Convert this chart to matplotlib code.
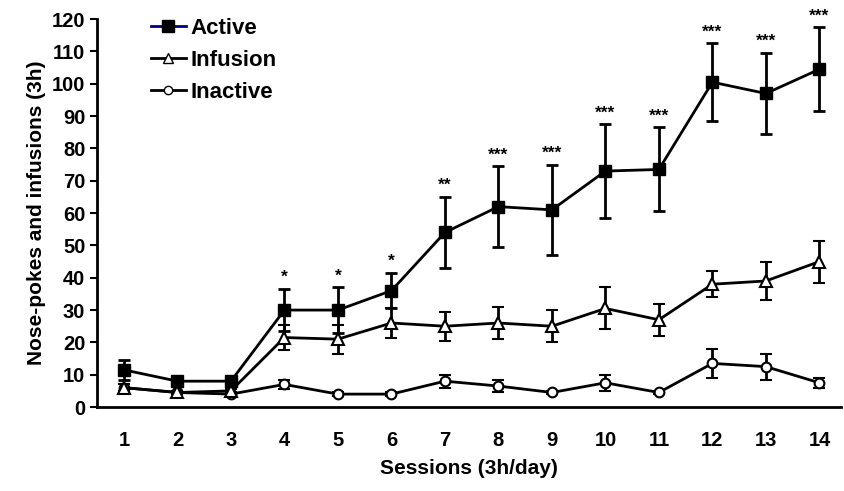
import matplotlib
matplotlib.use("Agg")
import matplotlib.pyplot as plt
from matplotlib.lines import Line2D
import numpy as np

plt.rcParams['font.family'] = ['Liberation Sans', 'DejaVu Sans']

sessions = list(range(1, 15))
active = [11.5, 8, 8, 30, 30, 36, 54, 62, 61, 73, 73.5, 100.5, 97, 104.5]
active_err = [3, 1, 1, 6.5, 7, 5.5, 11, 12.5, 14, 14.5, 13, 12, 12.5, 13]
infusion = [6, 4.5, 5, 21.5, 21, 26, 25, 26, 25, 30.5, 27, 38, 39, 45]
infusion_err = [1, 0.5, 0.5, 4, 4.5, 4.5, 4.5, 5, 5, 6.5, 5, 4, 6, 6.5]
inactive = [6, 4.5, 4, 7, 4, 4, 8, 6.5, 4.5, 7.5, 4.5, 13.5, 12.5, 7.5]
inactive_err = [1, 0.5, 0.5, 1.5, 0.5, 0.5, 2, 2, 0.5, 2.5, 0.5, 4.5, 4, 1.5]
signif = ['', '', '', '*', '*', '*', '**', '***', '***', '***', '***', '***', '***', '***']

fig = plt.figure(figsize=(8.45, 4.91), dpi=100)
ax = fig.add_axes([0.115, 0.171, 0.88, 0.79])

ekw = dict(capsize=4, elinewidth=2, capthick=2, ecolor='black')
ax.errorbar(sessions, inactive, yerr=inactive_err, color='black', lw=2, marker='o',
            ms=7, mfc='white', mec='black', mew=1.5, zorder=3, **ekw)
ax.errorbar(sessions, infusion, yerr=infusion_err, color='black', lw=2, marker='^',
            ms=8, mfc='white', mec='black', mew=1.5, zorder=4, **ekw)
ax.errorbar(sessions, active, yerr=active_err, color='black', lw=2, marker='s',
            ms=8, mfc='black', mec='black', zorder=5, **ekw)

for x, y, e, s in zip(sessions, active, active_err, signif):
    if s:
        ax.text(x, y + e + 1.2, s, ha='center', va='bottom', fontsize=12.5,
                fontweight='bold')

ax.set_xlim(0.5, 14.4)
ax.set_ylim(0, 120)
ax.set_yticks(np.arange(0, 121, 10))
ax.set_xticks(sessions)
ax.tick_params(axis='y', direction='out', length=5, width=1.5, labelsize=14.5)
ax.tick_params(axis='x', length=0, labelsize=14.5, pad=17)
for lbl in ax.get_xticklabels() + ax.get_yticklabels():
    lbl.set_fontweight('bold')
ax.spines['top'].set_visible(False)
ax.spines['right'].set_visible(False)
ax.spines['left'].set_linewidth(2)
ax.spines['bottom'].set_linewidth(2)
ax.set_xlabel('Sessions (3h/day)', fontsize=15, fontweight='bold', labelpad=7)
ax.set_ylabel('Nose-pokes and infusions (3h)', fontsize=15, fontweight='bold')

handles = [
    Line2D([], [], color='#000080', lw=2, marker='s', ms=8, mfc='black', mec='black'),
    Line2D([], [], color='black', lw=2, marker='^', ms=7, mfc='white', mec='black'),
    Line2D([], [], color='black', lw=2, marker='o', ms=6, mfc='white', mec='black'),
]
leg = ax.legend(handles, ['Active', 'Infusion', 'Inactive'], loc='upper left',
                bbox_to_anchor=(0.045, 1.055), frameon=False, fontsize=16,
                handlelength=1.6, handletextpad=0.2, labelspacing=0.5)
for t in leg.get_texts():
    t.set_fontweight('bold')

fig.savefig('out.png', dpi=100)
